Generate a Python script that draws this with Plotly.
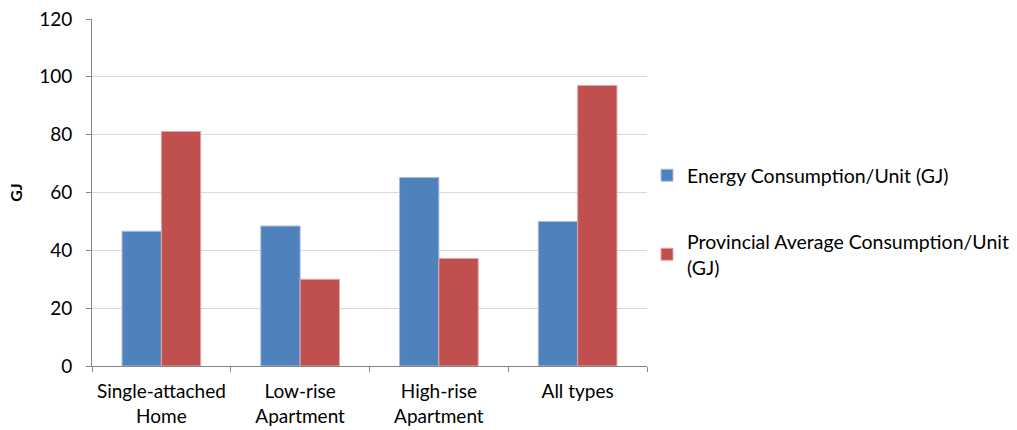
import plotly.graph_objects as go

categories = ["Single-attached<br>Home", "Low-rise<br>Apartment", "High-rise<br>Apartment", "All types"]
energy_per_unit = [46.6, 48.4, 65.2, 50.0]
provincial_avg = [81.1, 30.0, 37.2, 97.0]
y_ticks = [0, 20, 40, 60, 80, 100, 120]

FONT = "Lato"

fig = go.Figure()
fig.add_trace(go.Bar(
    x=categories, y=energy_per_unit,
    name="Energy Consumption/Unit (GJ)",
    marker=dict(color="#4f81bd", line=dict(color="#a7bfdf", width=1)),
    legendgroup="a",
))
fig.add_trace(go.Bar(
    x=categories, y=provincial_avg,
    name="Provincial Average Consumption/Unit<br>(GJ)",
    marker=dict(color="#c0504d", line=dict(color="#e0a8a6", width=1)),
    legendgroup="b",
))

fig.update_layout(
    width=1017, height=430,
    margin=dict(l=92, r=370, t=19, b=64, autoexpand=False),
    paper_bgcolor="white", plot_bgcolor="white",
    barmode="group", bargap=0.433, bargroupgap=0,
    font=dict(family=FONT, size=18, color="#000000"),
    showlegend=True,
    legend=dict(
        x=1.0, xanchor="left", y=0.605, yanchor="top",
        traceorder="grouped", tracegroupgap=38,
        font=dict(family=FONT, size=19.5, color="#000000"),
        itemwidth=30,
    ),
    xaxis=dict(
        showline=True, linecolor="#868686", linewidth=1,
        ticks="outside", tickson="boundaries", ticklen=5, tickcolor="#868686",
        showgrid=False,
        tickfont=dict(family=FONT, size=19),
        ticklabelstandoff=8,
    ),
    yaxis=dict(
        range=[0, 120], tickvals=y_ticks,
        showline=True, linecolor="#868686", linewidth=1,
        ticks="outside", ticklen=5, tickcolor="#868686",
        showgrid=True, gridcolor="#d9d9d9", gridwidth=1,
        zeroline=False,
        tickfont=dict(family=FONT, size=19),
        ticklabelstandoff=10,
        title=dict(text="<b>GJ</b>", font=dict(family=FONT, size=16), standoff=12),
    ),
)

fig.write_html("out.html")
